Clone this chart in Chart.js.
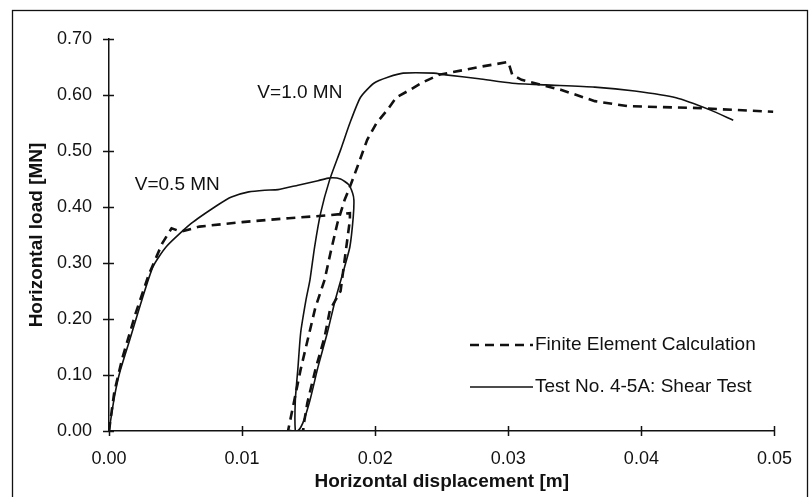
<!DOCTYPE html>
<html>
<head>
<meta charset="utf-8">
<script src="https://cdn.jsdelivr.net/npm/chart.js@4.4.1/dist/chart.umd.min.js"></script>
<style>
  html, body { margin: 0; padding: 0; background: #fff; }
  #wrap { width: 809px; height: 497px; }
</style>
</head>
<body>
<div id="wrap"><canvas id="loadChart" width="809" height="497"></canvas></div>
<script>
var inkcolor = "#111";

// finite element calculation (dashed)
var feX = [0, 0.0004, 0.001, 0.002, 0.003, 0.004, 0.0047, 0.0054, 0.0068, 0.010, 0.0135, 0.0164, 0.0181,
    0.0181, 0.0178, 0.0174, 0.0166, 0.0162, 0.0155, 0.0149, 0.0146, 0.0146,
    0.01345, 0.0144, 0.0155, 0.0162, 0.01664, 0.01716, 0.0177, 0.0181, 0.01865, 0.0194, 0.0201, 0.0209,
    0.0216, 0.0226, 0.0236, 0.0248, 0.0278, 0.0300, 0.0303, 0.0310, 0.0340, 0.0365, 0.0390, 0.0439, 0.0499];
var feY = [0, 0.07, 0.13, 0.21, 0.28, 0.335, 0.362, 0.356, 0.365, 0.373, 0.38, 0.385, 0.389,
    0.377, 0.323, 0.25, 0.216, 0.168, 0.109, 0.05, 0.007, 0,
    0, 0.11, 0.22, 0.27, 0.318, 0.371, 0.4125, 0.436, 0.471, 0.52, 0.55, 0.573,
    0.596, 0.609, 0.623, 0.636, 0.65, 0.659, 0.636, 0.627, 0.609, 0.589, 0.58, 0.577, 0.57];

// test no. 4-5A shear test (solid)
var testX = [0, 0.0004, 0.0008, 0.00156, 0.0023, 0.0033, 0.0043, 0.0062, 0.0082, 0.0092, 0.0105, 0.0117,
    0.0127, 0.0142, 0.0157, 0.0166, 0.0174, 0.0180, 0.0183, 0.0184, 0.01835, 0.0181, 0.0177, 0.0170,
    0.0164, 0.0157, 0.0151, 0.01456, 0.0142, 0.0140, 0.0140, 0.0142, 0.0144, 0.0148, 0.0151, 0.01545,
    0.0159, 0.01657, 0.0174, 0.0181, 0.0189, 0.0199, 0.0210, 0.0221, 0.0244, 0.0253, 0.0278, 0.0303,
    0.0328, 0.0365, 0.0395, 0.0426, 0.0452, 0.0469];
var testY = [0, 0.06, 0.104, 0.163, 0.221, 0.293, 0.329, 0.371, 0.404, 0.418, 0.427, 0.430,
    0.431, 0.439, 0.447, 0.452, 0.450, 0.440, 0.425, 0.4125, 0.382, 0.329, 0.293, 0.234,
    0.175, 0.114, 0.055, 0.014, 0, 0, 0.055, 0.114, 0.175, 0.234, 0.270, 0.329,
    0.389, 0.448, 0.502, 0.55, 0.596, 0.621, 0.632, 0.639, 0.639, 0.636, 0.629, 0.621,
    0.618, 0.614, 0.607, 0.595, 0.573, 0.555];

var xTicks = [0, 0.01, 0.02, 0.03, 0.04, 0.05];
var yTicks = [0, 0.1, 0.2, 0.3, 0.4, 0.5, 0.6, 0.7];

var seriesNames = ["Finite Element Calculation", "Test No. 4-5A: Shear Test"];
var noteText = ["V=1.0 MN", "V=0.5 MN"];
var noteX = [0.01434, 0.00513];
var noteY = [0.6036, 0.439];

function zip(xs, ys) {
    return xs.map(function (x, i) { return { x: x, y: ys[i] }; });
}

Chart.defaults.font.family = "'Liberation Sans', Arial, sans-serif";
Chart.defaults.color = inkcolor;

// frame, crossing tick marks, notes and legend
const decorPlugin = {
    id: 'decor',
    afterDraw(chart) {
        const ctx = chart.ctx;
        const xs = chart.scales.x, ys = chart.scales.y;
        ctx.save();
        ctx.strokeStyle = inkcolor;
        ctx.lineWidth = 1.3;
        ctx.strokeRect(12.5, 10.5, 795, 492);

        ctx.lineWidth = 1.5;
        ctx.beginPath();
        xTicks.forEach(function (v) {
            const px = Math.round(xs.getPixelForValue(v)) + 0.5;
            ctx.moveTo(px, ys.bottom - 5);
            ctx.lineTo(px, ys.bottom + 5);
        });
        yTicks.forEach(function (v) {
            const py = Math.round(ys.getPixelForValue(v)) + 0.5;
            ctx.moveTo(xs.left - 6, py);
            ctx.lineTo(xs.left + 5, py);
        });
        ctx.stroke();

        ctx.fillStyle = inkcolor;
        ctx.font = "19px 'Liberation Sans', Arial, sans-serif";
        ctx.textAlign = 'center';
        ctx.textBaseline = 'middle';
        noteText.forEach(function (t, i) {
            ctx.fillText(t, xs.getPixelForValue(noteX[i]), ys.getPixelForValue(noteY[i]));
        });

        // legend inside the plot, lower right
        ctx.textAlign = 'left';
        chart.data.datasets.forEach(function (ds, i) {
            const ly = 345 + i * 42;
            ctx.beginPath();
            ctx.setLineDash(ds.borderDash || []);
            ctx.lineWidth = ds.borderWidth;
            ctx.moveTo(470, ly);
            ctx.lineTo(533, ly);
            ctx.stroke();
            ctx.setLineDash([]);
            ctx.fillText(ds.label, 535, ly);
        });
        ctx.restore();
    }
};

const config = {
    type: 'scatter',
    data: {
        datasets: [{
            label: seriesNames[0],
            data: zip(feX, feY),
            showLine: true,
            borderColor: inkcolor,
            borderWidth: 2.6,
            borderDash: [9, 6],
            pointRadius: 0,
            tension: 0
        }, {
            label: seriesNames[1],
            data: zip(testX, testY),
            showLine: true,
            borderColor: inkcolor,
            borderWidth: 1.6,
            pointRadius: 0,
            tension: 0.2
        }]
    },
    options: {
        responsive: false,
        animation: false,
        layout: { padding: { top: 39, right: 27, left: 0, bottom: 0 } },
        plugins: {
            legend: { display: false },
            tooltip: { enabled: false }
        },
        scales: {
            x: {
                type: 'linear',
                min: 0,
                max: 0.05,
                afterFit: function (s) { s.height = 66; },
                afterBuildTicks: function (s) { s.ticks = xTicks.map(function (v) { return { value: v }; }); },
                grid: { display: false, drawTicks: false },
                border: { display: true, color: inkcolor, width: 1.5 },
                ticks: {
                    padding: 17,
                    font: { size: 18 },
                    color: inkcolor,
                    callback: function (v) { return v.toFixed(2); }
                },
                title: {
                    display: true,
                    text: 'Horizontal displacement [m]',
                    font: { size: 19, weight: 'bold' },
                    color: inkcolor,
                    padding: { top: 0, bottom: 4 }
                }
            },
            y: {
                min: 0,
                max: 0.7,
                afterFit: function (s) { s.width = 109; },
                afterBuildTicks: function (s) { s.ticks = yTicks.map(function (v) { return { value: v }; }); },
                grid: { display: false, drawTicks: false },
                border: { display: true, color: inkcolor, width: 1.5 },
                ticks: {
                    padding: 17,
                    font: { size: 18 },
                    color: inkcolor,
                    callback: function (v) { return v.toFixed(2); }
                },
                title: {
                    display: true,
                    text: 'Horizontal load [MN]',
                    font: { size: 19, weight: 'bold' },
                    color: inkcolor,
                    padding: { top: 25, bottom: 0 }
                }
            }
        }
    },
    plugins: [decorPlugin]
};

var myLoadChart = new Chart(document.getElementById('loadChart'), config);
</script>
</body>
</html>
